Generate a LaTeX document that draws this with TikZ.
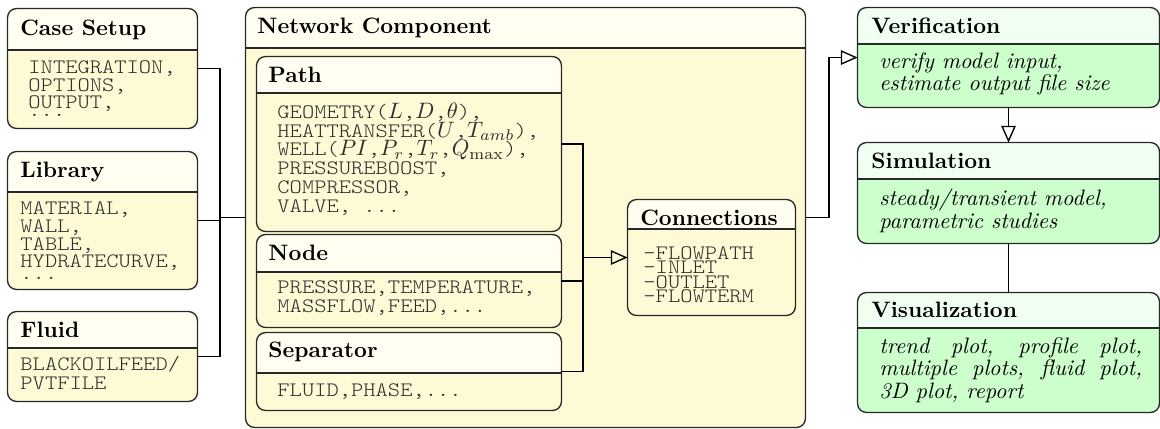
\documentclass[tikz,border=0pt]{standalone}
\usepackage{fontspec}
\setmonofont{lmmonolt10-regular}[Extension=.otf, FakeStretch=1.14]
\usetikzlibrary{arrows.meta,fit}
\definecolor{ybody}{RGB}{255,250,214}
\definecolor{yhead}{RGB}{255,254,240}
\definecolor{gbody}{RGB}{204,255,204}
\definecolor{ghead}{RGB}{240,255,242}
\definecolor{framec}{RGB}{40,40,40}
\definecolor{monoc}{RGB}{45,45,45}
\newcommand\tightls{\lineskiplimit=-100pt\relax}
\newcommand\monofs[1]{\ttfamily\fontsize{9.2pt}{#1}\selectfont\tightls}
\newcommand\italfs[1]{\itshape\fontsize{10pt}{#1}\selectfont\tightls}
\newcommand\mth[1]{{\fontsize{10.2pt}{8pt}\selectfont$#1$}}
\tikzset{
  boxline/.style={draw=framec, line width=0.6pt},
  hdr/.style={font=\bfseries, anchor=base west, inner sep=0pt},
  mono/.style={font=\monofs{#1}, text=monoc, anchor=base west, inner sep=0pt, align=left},
  ital/.style={font=\italfs{#1}, anchor=base west, inner sep=0pt, align=left},
  conn/.style={draw=black, line width=0.6pt},
  arr/.style={conn, -{Triangle[open, length=7.5pt, width=6.5pt]}},
}
\newcommand\umlbox[8]{%
  \node[fit={(#2,#3) (#4,#5)}, inner sep=0pt, fill=#8, rounded corners=4pt] (#1) {};
  \begin{scope}
    \clip (#2,#3) rectangle (#4,#6);
    \fill[#7, rounded corners=4pt] (#1.north west) rectangle (#1.south east);
  \end{scope}
  \draw[boxline] (#2,#6) -- (#4,#6);
  \draw[boxline, rounded corners=4pt] (#1.north west) rectangle (#1.south east);
}
\begin{document}
\begin{tikzpicture}[x=0.4484pt, y=-0.4484pt]
\fill[white] (0,0) rectangle (1160,428);
\useasboundingbox (0,0) rectangle (1160,428);

% left column
\umlbox{cs}{8}{9}{197}{128}{50}{yhead}{ybody}
\umlbox{lib}{8}{152}{197}{289}{192}{yhead}{ybody}
\umlbox{fl}{8}{312}{197}{401}{348}{yhead}{ybody}
% network component
\umlbox{net}{246}{8}{805}{427}{48}{yhead}{ybody}
\umlbox{path}{257}{57}{561}{231}{93}{yhead}{ybody}
\umlbox{nd}{257}{235}{561}{327}{272}{yhead}{ybody}
\umlbox{sep}{257}{333}{561}{410}{373}{yhead}{ybody}
\umlbox{con}{628}{200}{795}{315}{229}{yhead}{ybody}
% right column
\umlbox{ver}{858}{8}{1159}{107}{44}{ghead}{gbody}
\umlbox{sim}{858}{143}{1159}{243}{179}{ghead}{gbody}
\umlbox{vis}{858}{293}{1159}{412}{328}{ghead}{gbody}

% texts (multi-line nodes are placed by the baseline of their last line)
\node[hdr] (cs-h) at (20,35) {Case Setup};
\node[mono=7.85pt] (cs-b) at (28,116) {INTEGRATION,\\OPTIONS,\\OUTPUT,\\[-4.5pt]...};
\node[hdr] (lib-h) at (20,177) {Library};
\node[mono=7.94pt] (lib-b) at (20,279) {MATERIAL,\\WALL,\\TABLE,\\HYDRATECURVE,\\[-3pt]...};
\node[hdr] (fl-h) at (20,337) {Fluid};
\node[mono=8.5pt] (fl-b) at (20,389) {BLACKOILFEED/\\PVTFILE};

\node[hdr] (net-h) at (257,33) {Network Component};
\node[hdr] (path-h) at (268,82) {Path};
\node[mono=8.4pt] (path-b) at (277,212) {GEOMETRY(\mth{L},\mth{D},\mth{\theta}),\\HEATTRANSFER(\mth{U},\mth{T_{amb}}),\\WELL(\mth{PI},\mth{P_r},\mth{T_r},\mth{Q_{\max}}),\\PRESSUREBOOST,\\COMPRESSOR,\\VALVE, ...};
\node[hdr] (nd-h) at (268,260) {Node};
\node[mono=8.1pt] (nd-b) at (277,312) {PRESSURE,TEMPERATURE,\\MASSFLOW,FEED,...};
\node[hdr] (sep-h) at (268,357) {Separator};
\node[mono=8.1pt] (sep-b) at (277,396) {FLUID,PHASE,...};
\node[hdr] (con-h) at (640,225) {Connections};
\node[mono=6.4pt] (con-b) at (643,302.5) {–FLOWPATH\\–INLET\\–OUTLET\\–FLOWTERM};

\node[hdr] (ver-h) at (871,33) {Verification};
\node[ital=10pt] (ver-b) at (879,90.7) {verify model input,\\estimate output file size};
\node[hdr] (sim-h) at (871,168) {Simulation};
\node[ital=10.2pt] (sim-b) at (879,228) {steady/transient model,\\parametric studies};
\node[hdr] (vis-h) at (871,317) {Visualization};
\node[ital=10pt] (vis-b) at (879,398) {\makebox[117.8pt][s]{trend plot, profile plot,}\\\makebox[117.8pt][s]{multiple plots, fluid plot,}\\3D plot, report};

% connectors
\coordinate (jl) at (220,0);
\coordinate (jp) at (583,0);
\coordinate (jr) at (829,0);
\draw[conn] (cs.east) -- (cs.east -| jl) -- (fl.east -| jl) -- (fl.east);
\draw[conn] (lib.east) -- (lib.east -| jl);
\draw[conn] (net.west -| jl) -- (net.west);
\draw[conn] (path.east) -- (path.east -| jp) -- (sep.east -| jp) -- (sep.east);
\draw[conn] (nd.east) -- (nd.east -| jp);
\draw[arr] (con.west -| jp) -- (con.west);
\draw[arr] (net.east) -| (jr |- ver.west) -- (ver.west);
\draw[arr] (ver.south) -- (sim.north);
\draw[conn] (sim.south) -- (vis.north);
\end{tikzpicture}
\end{document}
